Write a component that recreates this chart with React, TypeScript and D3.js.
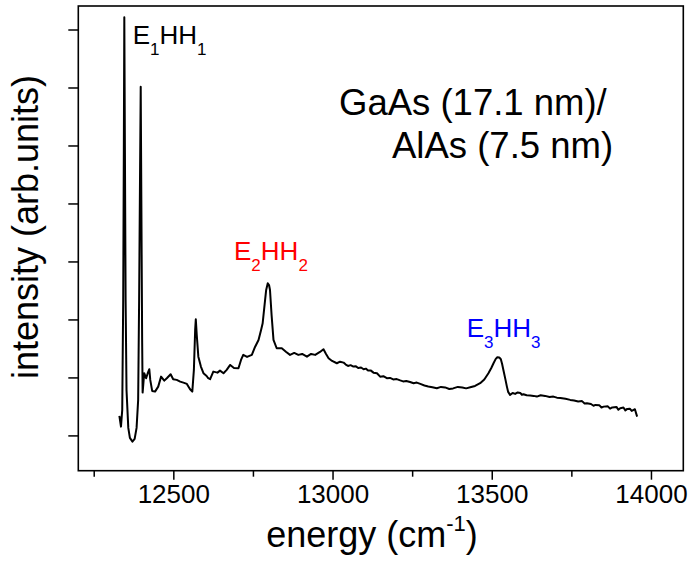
import React from "react";
import * as d3 from "d3";

const energy = [
  12329, 12334, 12338, 12341, 12343, 12344.5, 12346.4, 12348.6, 12351.4, 12357,
  12362, 12370, 12377, 12383, 12388, 12391, 12394, 12396, 12398, 12400.5,
  12402, 12407, 12413, 12418, 12423, 12426, 12432, 12441, 12451, 12460,
  12470, 12478, 12490, 12498, 12509, 12520, 12530, 12541, 12551, 12558,
  12563, 12567, 12569, 12572, 12577, 12585, 12593, 12603, 12608, 12614,
  12624, 12637, 12645, 12656, 12666, 12677, 12689, 12703, 12711, 12718,
  12730, 12745, 12755, 12766, 12774, 12779, 12785, 12790, 12795, 12799,
  12802, 12807, 12813, 12823, 12839, 12853, 12865, 12878, 12891, 12903,
  12918, 12931, 12944, 12959, 12970, 12978, 12986, 12997,
  13012, 13022, 13033, 13040, 13047, 13055, 13064, 13072, 13079, 13088,
  13096, 13103, 13110, 13118, 13127, 13138, 13148, 13158, 13169, 13179,
  13189, 13200, 13211, 13220, 13230, 13242, 13253, 13263, 13274, 13287,
  13299, 13312, 13326, 13339, 13352, 13365, 13377, 13392, 13406, 13418,
  13431, 13446, 13462, 13475, 13488, 13497, 13504, 13511, 13516, 13522,
  13527, 13531, 13535, 13541, 13546, 13550,
  13556, 13564, 13572, 13580, 13588, 13593, 13598, 13608, 13619, 13630,
  13640, 13652, 13666, 13680, 13692, 13703, 13714, 13730, 13745, 13757,
  13770, 13782, 13790, 13797, 13810, 13818, 13824, 13836, 13843, 13850,
  13863, 13870, 13877, 13890, 13896, 13902, 13912, 13918, 13924, 13932,
  13938, 13944, 13948, 13955,
];

const intensity = [
  0.345, 0.16, 0.448, 2.345, 4.931, 7.219, 4.931, 2.345, 0.793, 0.138,
  -0.034, -0.098, -0.052, 0.138, 0.621, 2.345, 4.586, 6.022, 4.069, 1.655,
  0.747, 1.081, 0.995, 1.081, 1.15, 0.966, 0.776, 0.764, 0.85, 1.022,
  0.953, 0.995, 1.064, 0.978, 0.966, 0.936, 0.919, 0.897, 0.805, 0.764,
  1.138, 1.828, 2.012, 1.741, 1.367, 1.195, 1.081, 1.034, 0.995, 0.978,
  1.109, 1.091, 1.126, 1.081, 1.138, 1.224, 1.172, 1.167, 1.31, 1.397,
  1.362, 1.397, 1.534, 1.655, 1.828, 1.943, 2.259, 2.517, 2.633, 2.603,
  2.517, 2.086, 1.655, 1.512, 1.512, 1.448, 1.397, 1.431, 1.397, 1.414,
  1.367, 1.414, 1.397, 1.448, 1.495, 1.414, 1.34, 1.293,
  1.253, 1.28, 1.264, 1.23, 1.207, 1.22, 1.195, 1.2, 1.172, 1.18,
  1.15, 1.16, 1.129, 1.13, 1.091, 1.08, 1.022, 1.03, 0.995, 1.0,
  0.974, 0.98, 0.957, 0.94, 0.948, 0.93, 0.909, 0.92, 0.897, 0.87,
  0.853, 0.84, 0.822, 0.845, 0.836, 0.81, 0.819, 0.845, 0.836, 0.82,
  0.84, 0.862, 0.909, 0.974, 1.081, 1.172, 1.253, 1.328, 1.357, 1.353,
  1.322, 1.241, 1.138, 0.983, 0.85, 0.759,
  0.707, 0.74, 0.724, 0.75, 0.741, 0.71, 0.719, 0.7, 0.698, 0.69,
  0.678, 0.7, 0.69, 0.67, 0.678, 0.66, 0.655, 0.64, 0.621, 0.61,
  0.595, 0.6, 0.56, 0.564, 0.55, 0.52, 0.534, 0.53, 0.49, 0.505,
  0.51, 0.47, 0.491, 0.5, 0.45, 0.478, 0.49, 0.44, 0.466, 0.47,
  0.43, 0.448, 0.46, 0.333,
];

const xMajorTicks = [12500, 13000, 13500, 14000];
const xMinorTicks = [12250, 12750, 13250, 13750];
const yTicks = [0, 1, 2, 3, 4, 5, 6, 7];

const FONT = "Liberation Sans, Arial, Helvetica, sans-serif";

export default function App() {
  const left = 78.3, right = 683.3, top = 6, bottom = 470.7;
  const x = d3.scaleLinear().domain([12200, 14100]).range([left, right]);
  const y = d3.scaleLinear().domain([-0.6, 7.414]).range([bottom, top]);
  const data = energy.map((e, i) => [e, intensity[i]] as [number, number]);
  const line = d3
    .line<[number, number]>()
    .x((d) => x(d[0]))
    .y((d) => y(d[1]))
    .curve(d3.curveLinear);

  return (
    <svg
      width={694}
      height={564}
      style={{ position: "absolute", left: 0, top: 0, background: "#fff" }}
      fontFamily={FONT}
    >
      <rect x={0} y={0} width={694} height={564} fill="#fff" />
      {yTicks.map((t) => (
        <line key={"y" + t} x1={left - 10} x2={left} y1={y(t)} y2={y(t)} stroke="#000" strokeWidth={1.5} />
      ))}
      {xMajorTicks.map((t) => (
        <g key={"xm" + t}>
          <line x1={x(t)} x2={x(t)} y1={bottom} y2={bottom + 9} stroke="#000" strokeWidth={1.5} />
          <text x={x(t)} y={503} fontSize={26} textAnchor="middle" fill="#000">
            {t}
          </text>
        </g>
      ))}
      {xMinorTicks.map((t) => (
        <line key={"xn" + t} x1={x(t)} x2={x(t)} y1={bottom} y2={bottom + 6} stroke="#000" strokeWidth={1.5} />
      ))}
      <rect x={left} y={top} width={right - left} height={bottom - top} fill="none" stroke="#000" strokeWidth={1.6} />
      <path d={line(data) || ""} fill="none" stroke="#000" strokeWidth={2} strokeLinejoin="round" />
      <text x={132.7} y={43.5} fontSize={26} fill="#000">
        E<tspan fontSize={17} dy={11}>1</tspan>
        <tspan dy={-11}>HH</tspan>
        <tspan fontSize={17} dy={11}>1</tspan>
      </text>
      <text x={234} y={260} fontSize={26} fill="#ff0000">
        E<tspan fontSize={17} dy={11}>2</tspan>
        <tspan dy={-11}>HH</tspan>
        <tspan fontSize={17} dy={11}>2</tspan>
      </text>
      <text x={466.7} y={336.7} fontSize={26} fill="#0000ff">
        E<tspan fontSize={17} dy={11}>3</tspan>
        <tspan dy={-11}>HH</tspan>
        <tspan fontSize={17} dy={11}>3</tspan>
      </text>
      <text x={339} y={115} fontSize={36.5} fill="#000">
        GaAs (17.1 nm)/
      </text>
      <text x={392} y={158} fontSize={36.5} fill="#000">
        AlAs (7.5 nm)
      </text>
      <text x={372} y={547} fontSize={36} textAnchor="middle" fill="#000">
        energy (cm<tspan fontSize={22} dy={-16}>-1</tspan>
        <tspan dy={16}>)</tspan>
      </text>
      <text
        transform={`translate(38,${227}) rotate(-90)`}
        fontSize={36}
        textAnchor="middle"
        fill="#000"
      >
        intensity (arb.units)
      </text>
    </svg>
  );
}
